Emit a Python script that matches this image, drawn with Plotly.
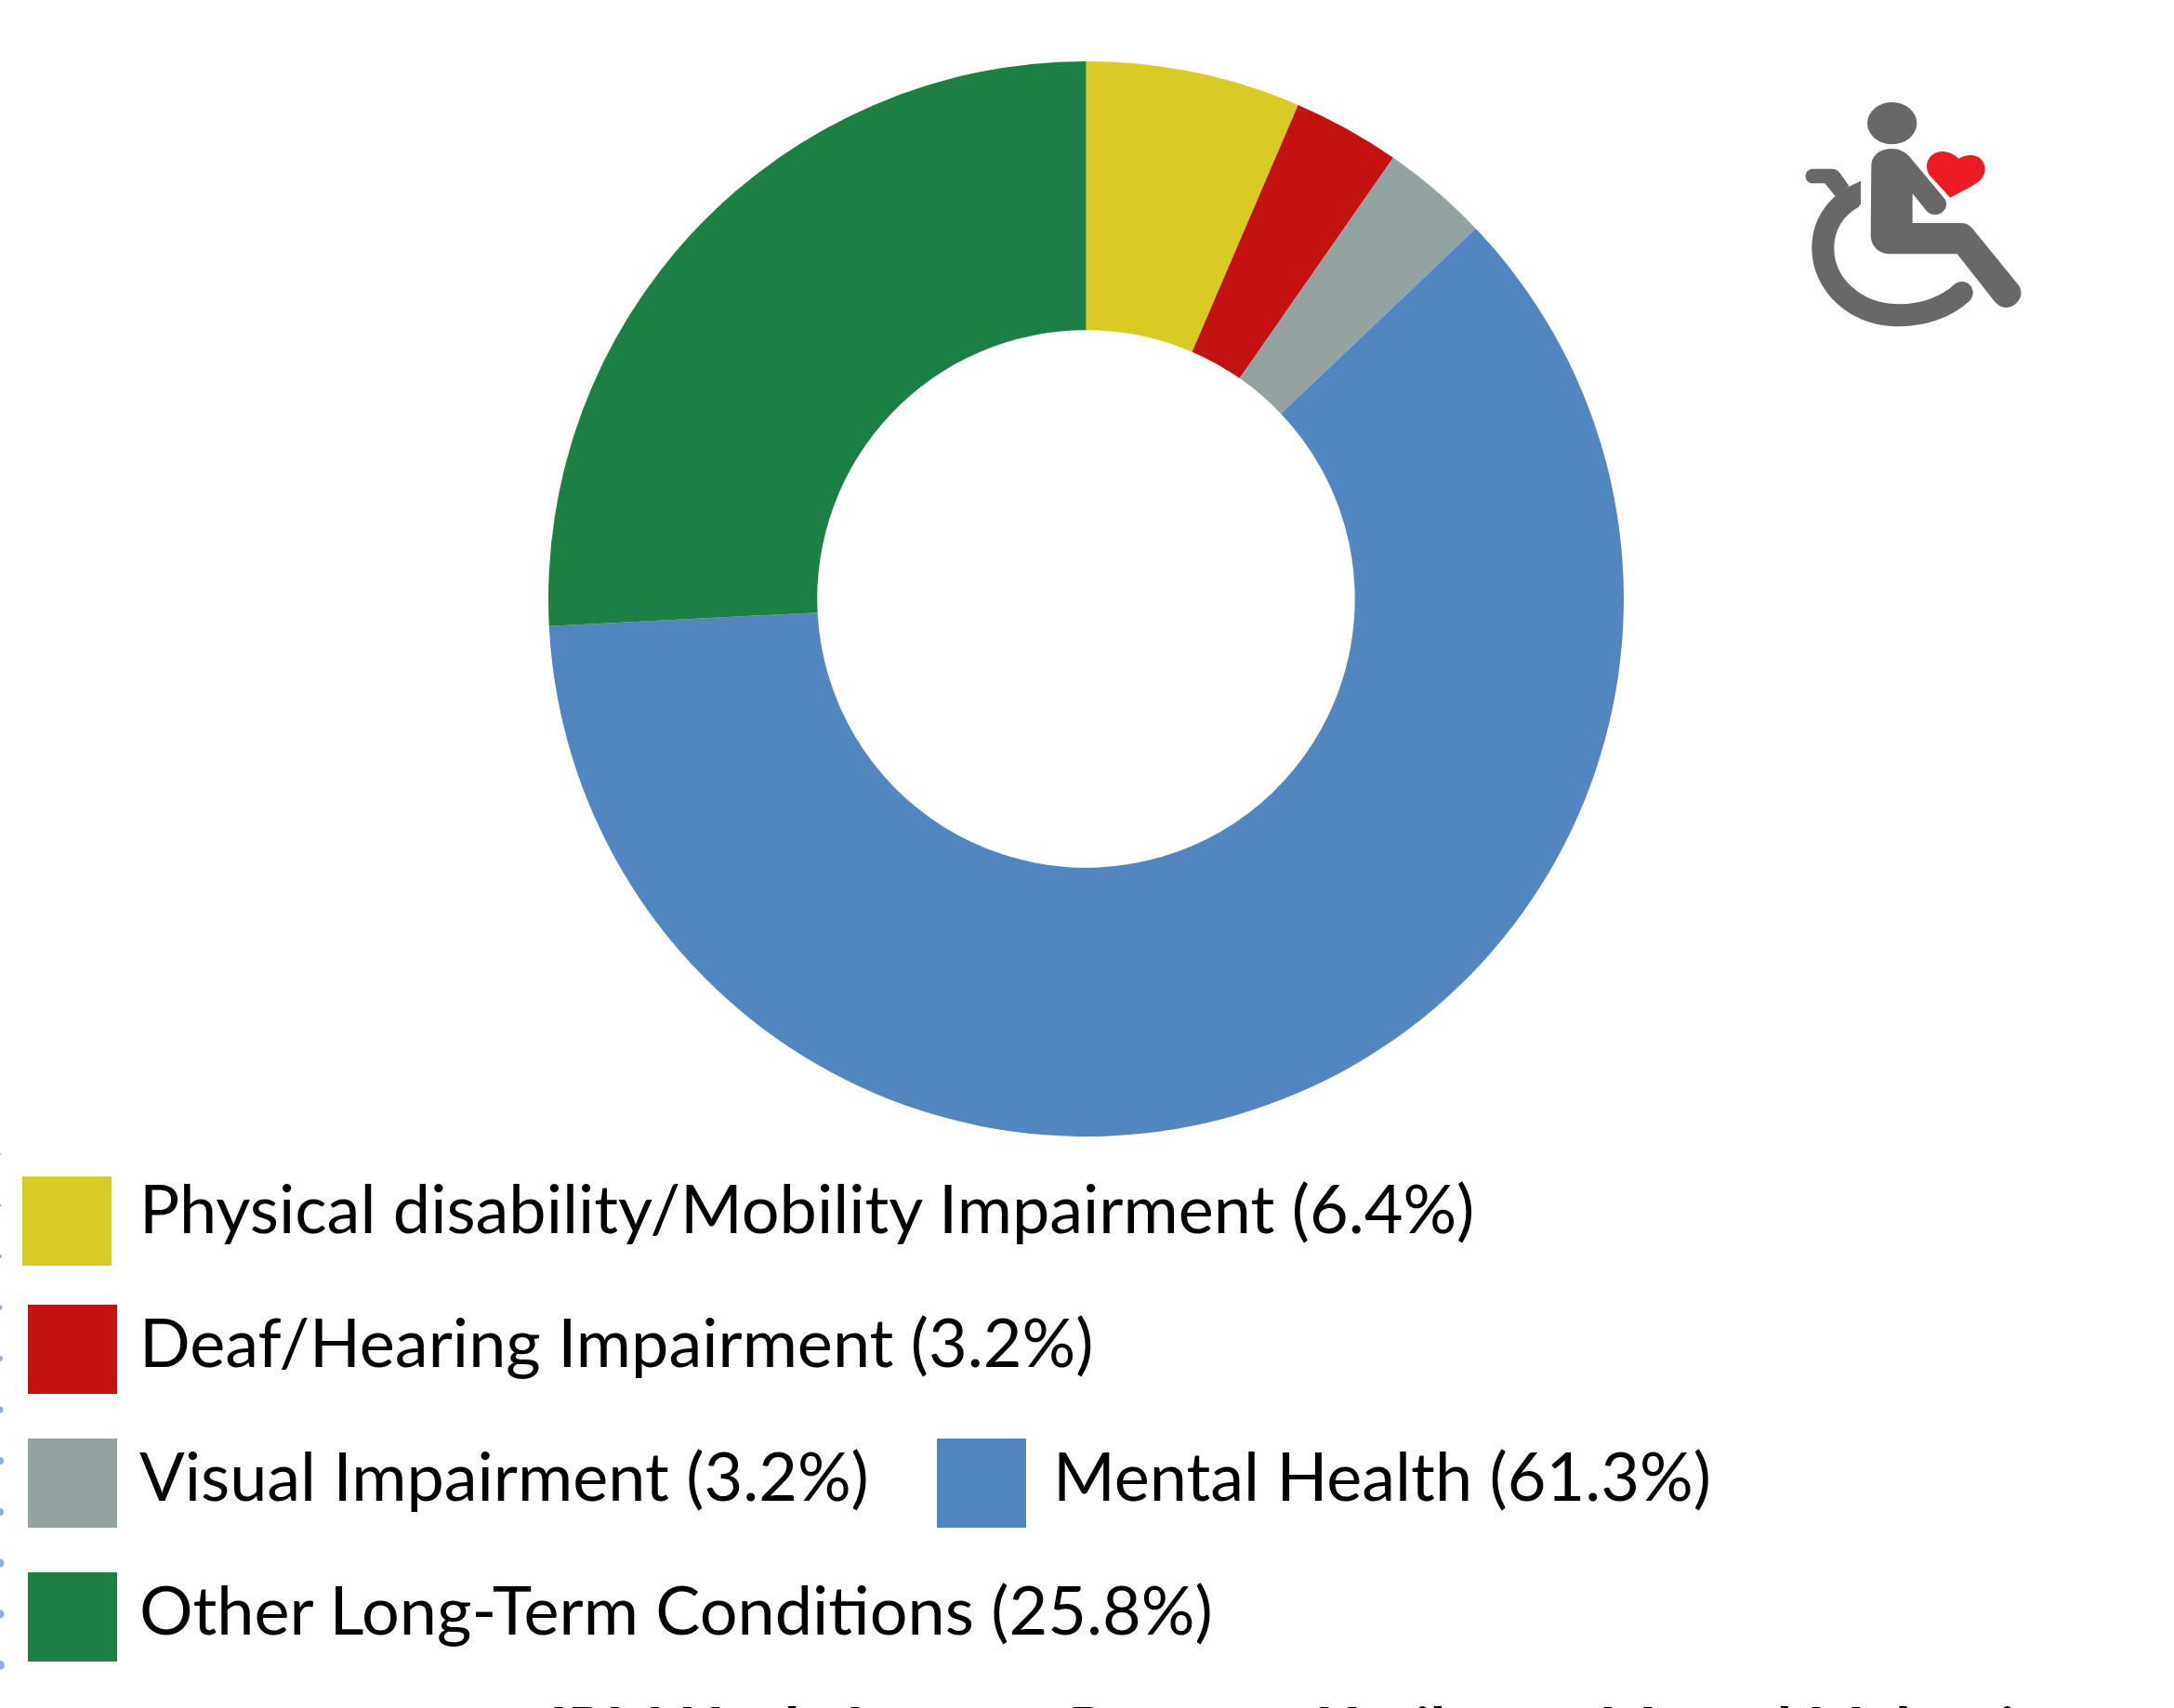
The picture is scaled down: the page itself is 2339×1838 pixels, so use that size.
import plotly.graph_objects as go

W, H = 2339, 1838

categories = ["Physical disability/Mobility Impairment", "Deaf/Hearing Impairment",
              "Visual Impairment", "Mental Health", "Other Long-Term Conditions"]
counts = [2, 1, 1, 19, 8]
percent_labels = ["6.4%", "3.2%", "3.2%", "61.3%", "25.8%"]
colors = ["#D9CB23", "#C41212", "#93A3A1", "#5286C0", "#1C8045"]

# legend layout: swatch left, swatch top, text left, text centre y
legend_pos = [(24, 1266, 149, 1298.5), (30, 1404, 149, 1442.5), (30, 1548, 149, 1586.5),
              (1008, 1548, 1132, 1586.5), (30, 1692, 149, 1730.5)]
SW = 96

dots_y = [1242, 1297, 1352, 1407, 1462, 1517, 1572, 1627, 1682, 1737, 1792]
dots_size = [2, 3, 4, 5, 6, 7, 8, 8, 9, 9, 10]

bottom_text = "IPM Kuala Lumpur Program Kesihatan Mental Malaysia"

cx, cy, R = 1168.5, 644.5, 578.5

fig = go.Figure()
fig.add_trace(go.Pie(
    labels=categories, values=counts, sort=False, direction="clockwise", rotation=0,
    hole=0.5, textinfo="none", showlegend=False, hoverinfo="label+percent",
    marker=dict(colors=colors, line=dict(width=0)),
    domain=dict(x=[(cx - R) / W, (cx + R) / W], y=[1 - (cy + R) / H, 1 - (cy - R) / H]),
))
fig.add_trace(go.Scatter(
    x=[0] * len(dots_y), y=dots_y, mode="markers", showlegend=False, cliponaxis=True,
    marker=dict(size=dots_size, color="#5B8FD0", line=dict(width=0)),
))

shapes, annotations = [], []
for name, pct, col, (sx, sy, tx, ty) in zip(categories, percent_labels, colors, legend_pos):
    shapes.append(dict(type="rect", xref="x", yref="y", x0=sx, x1=sx + SW, y0=sy, y1=sy + SW,
                       fillcolor=col, line=dict(width=0)))
    annotations.append(dict(xref="x", yref="y", x=tx, y=ty, xanchor="left", yanchor="middle",
                            text=f"{name} ({pct})", showarrow=False, borderpad=0,
                            font=dict(family="Lato", size=72, color="#000000")))
annotations.append(dict(xref="x", yref="y", x=590, y=1820, xanchor="left", yanchor="top",
                        text=f"<b>{bottom_text}</b>", showarrow=False, borderpad=0,
                        font=dict(family="Lato", size=66, color="#000000")))

# wheelchair icon, drawn in the crop's coordinates (3x, origin 1900,80)
def P(s):
    out = []
    isx = True
    for t in s.split():
        if t[0].isalpha():
            out.append(t); isx = True
        else:
            v = float(t)
            out.append(f"{(1900 + v / 3) if isx else (80 + v / 3):.1f}")
            isx = not isx
    return " ".join(out)

GRAY = "#686868"
def fill(path, col=GRAY):
    shapes.append(dict(type="path", xref="x", yref="y", path=P(path), fillcolor=col, line=dict(width=0)))
def stroke(path, w):
    shapes.append(dict(type="path", xref="x", yref="y", path=P(path), line=dict(color=GRAY, width=w)))
def disc(x, y, rx, ry, col=GRAY):
    shapes.append(dict(type="circle", xref="x", yref="y", x0=1900 + (x - rx) / 3, x1=1900 + (x + rx) / 3,
                       y0=80 + (y - ry) / 3, y1=80 + (y + ry) / 3, fillcolor=col, line=dict(width=0)))

disc(407, 158, 80, 68)
fill("M 340 295 C 340 260 370 240 405 240 C 430 240 450 250 465 268 L 575 400 "
     "C 595 425 570 455 545 453 C 530 452 522 445 515 437 L 473 385 L 473 480 L 630 480 "
     "C 650 480 660 490 670 502 L 815 680 C 840 715 805 755 775 753 C 755 752 745 742 735 730 "
     "L 617 580 L 400 580 C 365 580 338 555 338 520 Z")
fill("M 595 398 L 530 328 C 505 295 525 250 570 249 C 590 249 610 260 622 272 "
     "C 640 260 660 260 670 262 C 705 268 720 310 695 338 C 670 362 630 378 595 398 Z", "#EC1C24")
stroke("M 285 395 C 220 430 184 490 184 560 C 184 680 290 778 430 778 C 510 778 585 750 632 705", 24)
disc(632, 705, 36, 36)
fill("M 152 305 L 215 305 C 225 305 232 310 240 320 L 268 360 L 225 395 L 190 352 L 152 352 "
     "C 120 352 120 305 152 305 Z")
fill("M 262 365 L 306 344 L 306 420 L 270 440 L 225 395 Z")

fig.update_layout(
    width=W, height=H, margin=dict(l=0, r=0, t=0, b=0), autosize=False,
    paper_bgcolor="white", plot_bgcolor="white", showlegend=False,
    xaxis=dict(range=[0, W], visible=False, fixedrange=True),
    yaxis=dict(range=[H, 0], visible=False, fixedrange=True),
    shapes=shapes, annotations=annotations,
)
fig.write_html("out.html", config=dict(displayModeBar=False),
               post_script="document.body.style.margin='0';document.body.style.overflow='hidden';")
